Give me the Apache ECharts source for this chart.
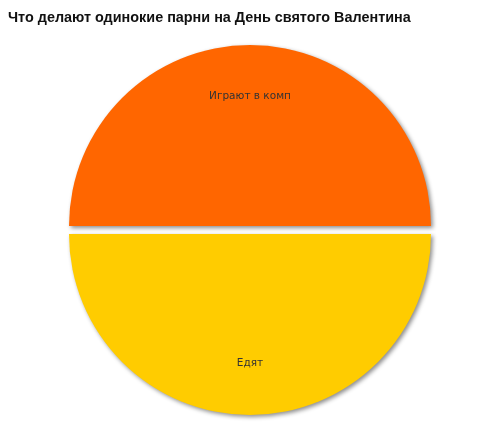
<!DOCTYPE html>
<html><head><meta charset="utf-8">
<script src="https://cdn.jsdelivr.net/npm/echarts@6/dist/echarts.min.js"></script>
<style>html,body{margin:0;padding:0;background:#fff}#c{width:500px;height:442px}</style>
</head><body><div id="c"></div>
<script>
const titleText = 'Что делают одинокие парни на День святого Валентина';
const categories = ['Играют в комп', 'Едят'];
const values = [50, 50];
const colors = ['#FF6600', '#FFCC00'];

const chart = echarts.init(document.getElementById('c'), null, {renderer: 'canvas'});
const baseData = categories.map((name, i) => ({
  name, value: values[i], selected: true,
  itemStyle: {color: colors[i]}
}));
chart.setOption({
  animation: false,
  title: {
    text: titleText, left: 3, top: 6,
    textStyle: {fontFamily: 'Liberation Sans, Arial, sans-serif', fontSize: 14.4, fontWeight: 'bold', color: '#111'}
  },
  series: [
    {
      type: 'pie', center: [250, 230], radius: [0, 181], startAngle: 180, clockwise: true,
      selectedMode: 'multiple', selectedOffset: 4, silent: true,
      itemStyle: {shadowBlur: 4, shadowOffsetX: 2, shadowOffsetY: 2, shadowColor: 'rgba(0,0,0,0.45)'},
      label: {show: false}, labelLine: {show: false},
      data: baseData
    },
    {
      type: 'pie', center: [250, 230], radius: [72, 181], startAngle: 180, clockwise: true,
      selectedMode: 'multiple', selectedOffset: 4, silent: true,
      itemStyle: {color: 'rgba(0,0,0,0)'},
      label: {show: true, position: 'inside', fontFamily: 'DejaVu Sans, sans-serif', fontSize: 10.5, color: '#333'},
      labelLine: {show: false},
      data: categories.map((name, i) => ({name, value: values[i], selected: true}))
    }
  ]
});
</script></body></html>
